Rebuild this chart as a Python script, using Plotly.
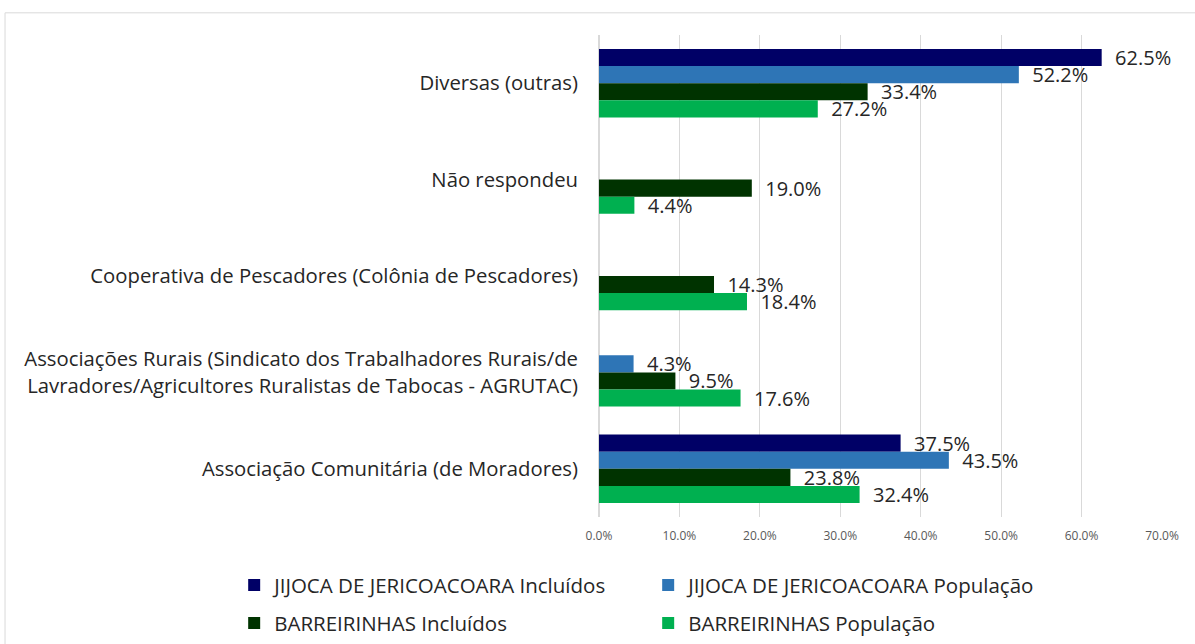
import plotly.graph_objects as go

categories = [
    "Diversas (outras)",
    "Não respondeu",
    "Cooperativa de Pescadores (Colônia de Pescadores)",
    "Associações Rurais (Sindicato dos Trabalhadores Rurais/de<br>Lavradores/Agricultores Ruralistas de Tabocas - AGRUTAC)",
    "Associação Comunitária (de Moradores)",
]
series_names = [
    "JIJOCA DE JERICOACOARA Incluídos",
    "JIJOCA DE JERICOACOARA População",
    "BARREIRINHAS Incluídos",
    "BARREIRINHAS População",
]
jijoca_incl = [62.5, None, None, None, 37.5]
jijoca_pop = [52.2, None, None, 4.3, 43.5]
barr_incl = [33.4, 19.0, 14.3, 9.5, 23.8]
barr_pop = [27.2, 4.4, 18.4, 17.6, 32.4]
colors = ["#000066", "#2E75B6", "#003300", "#00B050"]
legend_ids = ["legend", "legend", "legend2", "legend2"]

FONT = "Open Sans"
TXT = "#262626"
fig = go.Figure()
for name, vals, col, lg in zip(series_names, [jijoca_incl, jijoca_pop, barr_incl, barr_pop], colors, legend_ids):
    fig.add_trace(go.Bar(
        y=categories, x=vals, orientation="h", name=name,
        marker=dict(color=col, line=dict(width=0)),
        text=[f"\u00a0\u00a0{v:.1f}%" if v is not None else "" for v in vals],
        textposition="outside", cliponaxis=False, constraintext="none",
        textfont=dict(size=20, color=TXT, family=FONT),
        legend=lg,
    ))

fig.update_layout(
    width=1195, height=644,
    paper_bgcolor="white", plot_bgcolor="white",
    barmode="group", bargap=0.29, bargroupgap=0,
    margin=dict(l=599, r=33, t=35, b=127, autoexpand=False),
    font=dict(family=FONT, color=TXT),
    xaxis=dict(range=[0, 70], dtick=10, ticksuffix="%", tickformat=".1f",
               showgrid=True, gridcolor="#D9D9D9", gridwidth=1,
               zeroline=True, zerolinecolor="#D9D9D9",
               tickfont=dict(size=12, color="#595959", family=FONT),
               ticks="", ticklabelstandoff=10),
    yaxis=dict(autorange="reversed", tickfont=dict(size=20.3, color=TXT, family=FONT),
               ticks="", showline=False, ticklabelstandoff=20),
    legend=dict(orientation="h", x=-0.648, xanchor="left", y=-0.1, yanchor="top",
                entrywidth=369, entrywidthmode="pixels",
                font=dict(size=20.5, color=TXT, family=FONT), bgcolor="rgba(0,0,0,0)"),
    legend2=dict(orientation="h", x=-0.648, xanchor="left", y=-0.179, yanchor="top",
                 entrywidth=369, entrywidthmode="pixels",
                 font=dict(size=20.5, color=TXT, family=FONT), bgcolor="rgba(0,0,0,0)"),
    shapes=[
        dict(type="line", xref="paper", yref="paper", x0=-1.055, x1=1.06, y0=1.046, y1=1.046,
             line=dict(color="#D9D9D9", width=1)),
        dict(type="line", xref="paper", yref="paper", x0=-1.055, x1=-1.055, y0=1.046, y1=-0.27,
             line=dict(color="#D9D9D9", width=1)),
    ],
)
fig.write_html("out.html", post_script="document.body.style.margin='0px';",
               config={"displayModeBar": False})
